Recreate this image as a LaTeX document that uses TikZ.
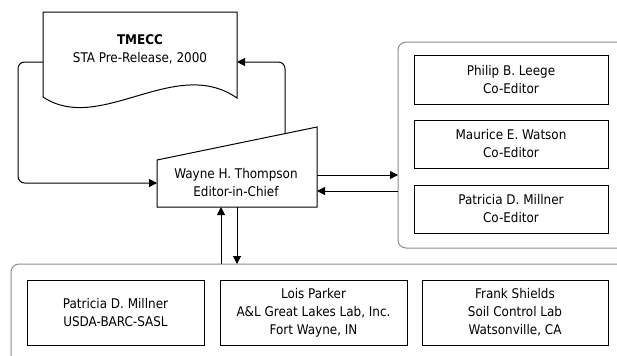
\documentclass[tikz,border=0pt]{standalone}
\usepackage{fontspec}
\setmainfont{DejaVu Sans Condensed}
\usetikzlibrary{arrows.meta}
\tikzset{
  lbl/.style={align=center, inner sep=0pt, font=\fontsize{10pt}{13.5pt}\selectfont},
  box/.style={lbl, draw=black, line width=0.75pt},
  grp/.style={draw=black!45, line width=0.75pt, rounded corners=6pt},
  shp/.style={draw=black, line width=0.75pt, fill=white},
  conn/.style={draw=black, line width=0.75pt, -{Triangle[length=6pt,width=6pt]}},
}
\begin{document}
\begin{tikzpicture}[x=0.75pt,y=-0.75pt]
\useasboundingbox (0,0) rectangle (617,355);
% groups
\draw[grp] (640,248) -- (398,248) -- (398,42) -- (640,42);
\draw[grp] (640,264) -- (11,264) -- (11,380);
% document shape
\draw[shp] (43,97) -- (43,12) -- (237,12) -- (237,98)
  .. controls (175,55) and (100,135) .. (43,97) -- cycle;
\node[lbl] (doc) at (140,49) {\textbf{TMECC}\\STA Pre-Release, 2000};
\coordinate (docW) at (43,62);
\coordinate (docE) at (237,62);
% manual input shape
\draw[shp] (157,160) -- (317,127) -- (317,207) -- (157,207) -- cycle;
\node[lbl] (chief) at (236,183) {Wayne H. Thompson\\Editor-in-Chief};
\coordinate (chiefW) at (157,183);
\coordinate (chiefT) at (285,133.6);
\coordinate (chiefE1) at (317,175);
\coordinate (chiefE2) at (317,191);
\coordinate (chiefB1) at (221,207);
\coordinate (chiefB2) at (237,207);
\coordinate (rgW1) at (398,175);
\coordinate (rgW2) at (398,191);
\coordinate (bgT1) at (221,264);
\coordinate (bgT2) at (237,264);
% co-editors
\node[box, minimum width=145.5pt, minimum height=36.75pt] (c1) at (511,79.5) {Philip B. Leege\\Co-Editor};
\node[box, minimum width=145.5pt, minimum height=36pt] (c2) at (511,144) {Maurice E. Watson\\Co-Editor};
\node[box, minimum width=145.5pt, minimum height=36pt] (c3) at (511,209) {Patricia D. Millner\\Co-Editor};
% labs
\node[box, minimum width=132.75pt, minimum height=48.75pt] (l1) at (115.5,312.5) {Patricia D. Millner\\USDA-BARC-SASL};
\node[box, minimum width=140.25pt, minimum height=48.75pt] (l2) at (313.5,312.5) {Lois Parker\\A\&L Great Lakes Lab, Inc.\\Fort Wayne, IN};
\node[box, minimum width=139.5pt, minimum height=48.75pt] (l3) at (515,312.5) {Frank Shields\\Soil Control Lab\\Watsonville, CA};
% connectors
\draw[conn, rounded corners=5pt] (docW) -- (18,62) -- (18,183) -- (chiefW);
\draw[conn, rounded corners=5pt] (chiefT) -- (285,62) -- (docE);
\draw[conn] (chiefE1) -- (rgW1);
\draw[conn] (rgW2) -- (chiefE2);
\draw[conn] (bgT1) -- (chiefB1);
\draw[conn] (chiefB2) -- (bgT2);
\end{tikzpicture}
\end{document}
